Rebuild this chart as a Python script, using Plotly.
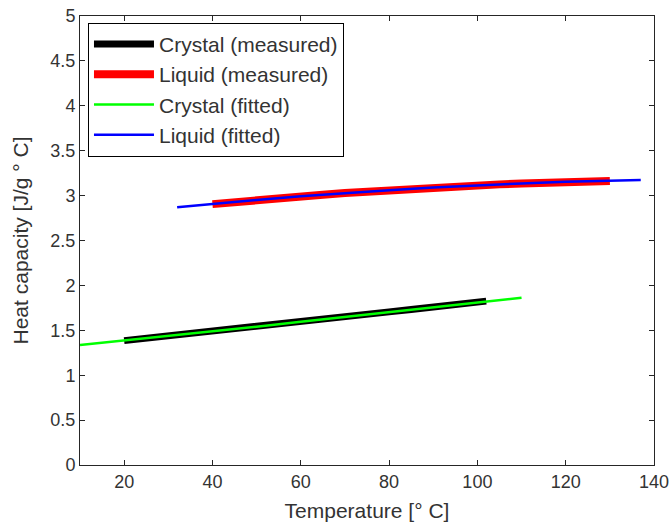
import plotly.graph_objects as go

# Crystal, measured
crys_meas_T = [20, 25, 30, 35, 40, 45, 50, 55, 60, 65, 70, 75, 80, 85, 90, 95, 100, 102]
crys_meas_cp = [1.385, 1.410, 1.435, 1.460, 1.487, 1.512, 1.540, 1.567, 1.595, 1.622,
                1.650, 1.677, 1.705, 1.732, 1.760, 1.785, 1.810, 1.825]

# Liquid, measured
liq_meas_T = [40, 45, 50, 55, 60, 65, 70, 75, 80, 85, 90, 95, 100, 105, 110, 115, 120, 125, 130]
liq_meas_cp = [2.905, 2.930, 2.952, 2.972, 2.992, 3.010, 3.028, 3.045, 3.060, 3.075,
               3.089, 3.102, 3.114, 3.125, 3.135, 3.145, 3.153, 3.158, 3.162]

# Crystal, fitted
crys_fit_T = [10, 20, 30, 40, 50, 60, 70, 80, 90, 100, 110]
crys_fit_cp = [1.336, 1.385, 1.435, 1.486, 1.540, 1.595, 1.650, 1.705, 1.760, 1.810, 1.863]

# Liquid, fitted
liq_fit_T = [32, 40, 50, 60, 70, 80, 90, 100, 110, 120, 130, 137]
liq_fit_cp = [2.870, 2.908, 2.952, 2.992, 3.028, 3.060, 3.089, 3.114, 3.135, 3.153, 3.167, 3.174]

x_ticks = [20, 40, 60, 80, 100, 120, 140]
y_ticks = [0, 0.5, 1, 1.5, 2, 2.5, 3, 3.5, 4, 4.5, 5]
y_tick_text = ["0", "0.5", "1", "1.5", "2", "2.5", "3", "3.5", "4", "4.5", "5"]

FONT = "Arial, Liberation Sans, sans-serif"
TXT = "#333333"
AX = "#262626"

fig = go.Figure()
fig.add_trace(go.Scatter(x=crys_meas_T, y=crys_meas_cp, mode="lines",
                         line=dict(color="#000000", width=7), name="Crystal (measured)"))
fig.add_trace(go.Scatter(x=liq_meas_T, y=liq_meas_cp, mode="lines",
                         line=dict(color="#ff0000", width=8), name="Liquid (measured)"))
fig.add_trace(go.Scatter(x=crys_fit_T, y=crys_fit_cp, mode="lines",
                         line=dict(color="#00ff00", width=2.5), name="Crystal (fitted)"))
fig.add_trace(go.Scatter(x=liq_fit_T, y=liq_fit_cp, mode="lines",
                         line=dict(color="#0000ff", width=2.5), name="Liquid (fitted)"))

fig.update_layout(
    width=671, height=525,
    margin=dict(l=80, r=17, t=16, b=60),
    paper_bgcolor="white", plot_bgcolor="white",
    font=dict(family=FONT, color=TXT, size=18),
    showlegend=True,
    legend=dict(x=0.0139, y=0.985, xanchor="left", yanchor="top",
                bgcolor="white", bordercolor="#000000", borderwidth=1,
                font=dict(size=21, color=TXT, family=FONT),
                itemwidth=60, tracegroupgap=0),
    xaxis=dict(range=[10, 140], tickvals=x_ticks, ticks="inside", ticklen=5,
               tickcolor=AX, showline=True, linecolor=AX, linewidth=1, mirror="ticks",
               showgrid=False, zeroline=False, automargin=False,
               tickfont=dict(size=18, color=TXT),
               title=dict(text="Temperature [° C]", font=dict(size=21, color=TXT), standoff=12)),
    yaxis=dict(range=[0, 5], tickvals=y_ticks, ticktext=y_tick_text, ticks="inside", ticklen=5,
               tickcolor=AX, showline=True, linecolor=AX, linewidth=1, mirror="ticks",
               showgrid=False, zeroline=False, automargin=False,
               tickfont=dict(size=18, color=TXT),
               title=dict(text="Heat capacity [J/g ° C]", font=dict(size=21, color=TXT), standoff=16)),
)

fig.write_html("out.html")
